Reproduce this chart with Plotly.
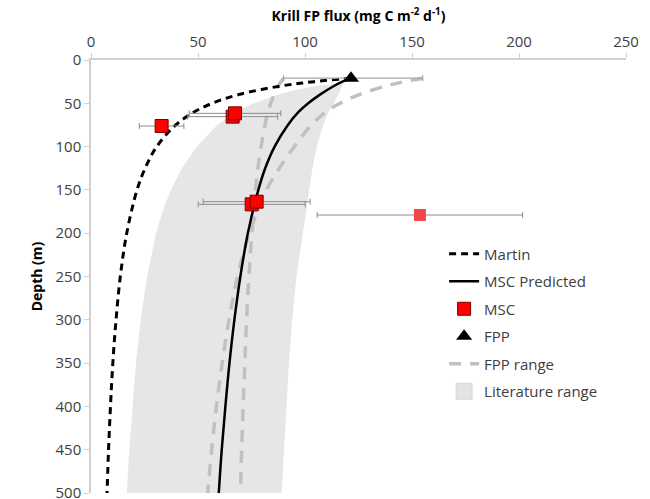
import plotly.graph_objects as go

# ---------------- data ----------------
depth_curve = [21, 25, 30, 40, 50, 60, 75, 100, 125, 150, 200, 250, 300, 350, 400, 450, 500]

martin_flux = [121.5, 104.3, 88.7, 68.9, 56.6, 48.2, 39.6, 30.7, 25.3, 21.5, 16.7, 13.7, 11.7, 10.2, 9.1, 8.2, 7.5]
msc_pred_flux = [121.5, 117.5, 113.5, 107.0, 101.5, 97.0, 92.0, 85.8, 81.4, 78.2, 73.3, 69.8, 67.0, 64.7, 62.8, 61.1, 59.7]
fpp_low_start_flux = [90.0, 88.8, 87.5, 85.5, 84.0, 82.7, 81.3, 79.5, 78.0, 76.9, 75.2, 73.8, 72.7, 71.9, 71.1, 70.4, 69.8]
fpp_high_start_flux = [155.0, 146.4, 137.8, 125.3, 116.4, 109.6, 103.0, 95.0, 88.0, 82.0, 74.0, 68.5, 64.5, 61.3, 58.6, 56.4, 54.5]

lit_depth_left = [27, 30, 35, 40, 50, 60, 75, 90, 100, 125, 150, 175, 200, 250, 300, 350, 400, 450, 500]
lit_flux_left = [117.0, 105.0, 95.0, 87.0, 76.0, 67.5, 59.0, 53.5, 49.5, 42.5, 37.3, 33.4, 30.4, 26.2, 23.2, 21.0, 19.3, 17.9, 16.7]
lit_depth_right = [500, 450, 400, 350, 300, 250, 200, 150, 125, 100, 75, 60, 50, 40, 30, 27]
lit_flux_right = [89.1, 90.2, 91.3, 92.5, 94.0, 96.0, 99.0, 102.0, 103.5, 105.5, 108.5, 111.0, 113.5, 115.5, 117.5, 118.0]

msc_flux = [66.2, 67.3, 33.0, 75.1, 77.4]
msc_depth = [65.4, 61.6, 76.2, 166.7, 163.6]
msc_err = [21.0, 21.4, 10.4, 25.0, 25.0]

outlier_flux = [153.7]
outlier_depth = [179.0]
outlier_err = [48.0]

fpp_flux = [121.5]
fpp_depth = [21.0]
fpp_err_plus = [33.5]
fpp_err_minus = [31.5]

x_ticks = [0, 50, 100, 150, 200, 250]
y_ticks = [0, 50, 100, 150, 200, 250, 300, 350, 400, 450, 500]

FONT = "Open Sans"

fig = go.Figure()

# Literature range (shaded)
fig.add_trace(go.Scatter(
    x=lit_flux_left + lit_flux_right,
    y=lit_depth_left + lit_depth_right,
    mode="lines", fill="toself", fillcolor="#e6e6e6",
    line=dict(width=0, color="#e6e6e6"),
    name="Literature range", showlegend=False, hoverinfo="skip"))

# FPP range (two grey dashed curves)
fig.add_trace(go.Scatter(
    x=fpp_low_start_flux, y=depth_curve, mode="lines",
    line=dict(color="#c0c0c0", width=3.5, dash="12px,9px", shape="spline"),
    name="FPP range", legendgroup="g5", legendrank=5))
fig.add_trace(go.Scatter(
    x=fpp_high_start_flux, y=depth_curve, mode="lines",
    line=dict(color="#c0c0c0", width=3.5, dash="12px,9px", shape="spline"),
    name="FPP range", legendgroup="g5", showlegend=False))

# Martin
fig.add_trace(go.Scatter(
    x=martin_flux, y=depth_curve, mode="lines",
    line=dict(color="black", width=3, dash="7px,5px", shape="spline"),
    name="Martin", legendgroup="g1", legendrank=1))

# MSC Predicted
fig.add_trace(go.Scatter(
    x=msc_pred_flux, y=depth_curve, mode="lines",
    line=dict(color="black", width=2.5, shape="spline"),
    name="MSC Predicted", legendgroup="g2", legendrank=2))

# outlier (lighter red, not in legend)
fig.add_trace(go.Scatter(
    x=outlier_flux, y=outlier_depth, mode="markers",
    marker=dict(symbol="square", size=12, color="#f04848", line=dict(width=0)),
    error_x=dict(type="data", array=outlier_err, color="#8c8c8c", thickness=1, width=3),
    showlegend=False))

# MSC
fig.add_trace(go.Scatter(
    x=msc_flux, y=msc_depth, mode="markers",
    marker=dict(symbol="square", size=13, color="#ff0000", line=dict(width=1, color="#7a0000")),
    error_x=dict(type="data", array=msc_err, color="#8c8c8c", thickness=1, width=3),
    name="MSC", legendgroup="g3", legendrank=3))

# FPP
fig.add_trace(go.Scatter(
    x=fpp_flux, y=fpp_depth, mode="markers",
    marker=dict(symbol="triangle-up", size=14, color="black"),
    error_x=dict(type="data", symmetric=False, array=fpp_err_plus, arrayminus=fpp_err_minus,
                 color="#a6a6a6", thickness=1.2, width=3),
    name="FPP", legendgroup="g4", legendrank=4))

# legend entry for the literature range (square swatch)
fig.add_trace(go.Scatter(
    x=[None], y=[None], mode="markers",
    marker=dict(symbol="square", size=17, color="#e3e3e3", line=dict(width=1, color="#d8d8d8")),
    name="Literature range", legendgroup="g6", legendrank=6))

fig.update_layout(
    width=650, height=499,
    margin=dict(l=91, r=24, t=60, b=6),
    paper_bgcolor="white", plot_bgcolor="white",
    font=dict(family=FONT, size=15, color="#404040"),
    showlegend=True,
    legend=dict(x=0.66, y=0.59, xanchor="left", yanchor="top",
                bgcolor="rgba(0,0,0,0)", tracegroupgap=5,
                font=dict(family=FONT, size=15, color="#404040")),
    xaxis=dict(side="top", range=[0, 250], tickvals=x_ticks, ticktext=[str(v) for v in x_ticks],
               showgrid=False, zeroline=False, showline=True, linecolor="#d0d0d0", linewidth=1.5,
               ticks="outside", ticklen=5, tickcolor="#d0d0d0", automargin=False,
               ticklabeloverflow="allow",
               title=dict(text="<b>Krill FP flux (mg C m<sup>-2</sup> d<sup>-1</sup>)</b>",
                          font=dict(family=FONT, size=14, color="black"), standoff=6)),
    yaxis=dict(range=[500, 0], tickvals=y_ticks, ticktext=[str(v) for v in y_ticks],
               showgrid=False, zeroline=False, showline=True, linecolor="#d0d0d0", linewidth=1.5,
               ticks="outside", ticklen=5, tickcolor="#d0d0d0", automargin=False,
               ticklabeloverflow="allow",
               title=dict(text="<b>Depth (m)</b>", font=dict(family=FONT, size=14, color="black"),
                          standoff=10)),
)

fig.write_html("out.html", config={"displayModeBar": False},
               post_script="document.body.style.margin='0px';")
